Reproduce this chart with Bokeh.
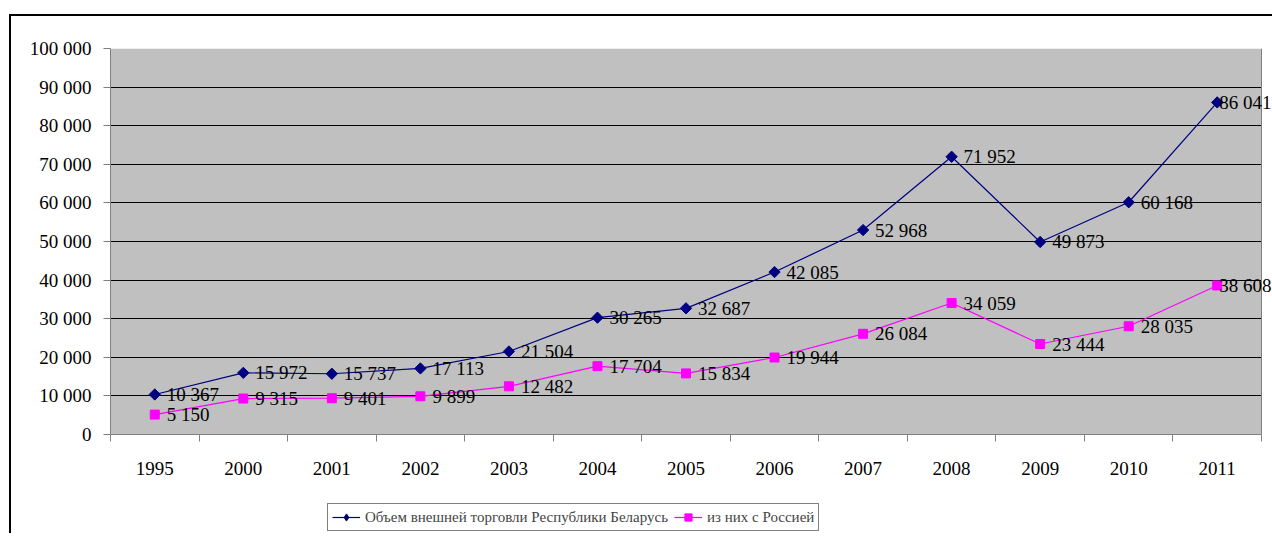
import math
from bokeh.plotting import figure
from bokeh.layouts import column
from bokeh.models import (FixedTicker, Range1d, Legend, LegendItem, Grid,
                          ColumnDataSource, LabelSet, BoxAnnotation, Span)
from bokeh.core.properties import value
from bokeh.embed import file_html
from bokeh.resources import INLINE

years = ["1995", "2000", "2001", "2002", "2003", "2004", "2005",
         "2006", "2007", "2008", "2009", "2010", "2011"]
total = [10367, 15972, 15737, 17113, 21504, 30265, 32687,
         42085, 52968, 71952, 49873, 60168, 86041]
russia = [5150, 9315, 9401, 9899, 12482, 17704, 15834,
          19944, 26084, 34059, 23444, 28035, 38608]
y_ticks = list(range(0, 100001, 10000))
series_names = ["Объем внешней торговли Республики Беларусь", "из них с Россией"]
BLUE, PINK, GRAY, AXIS = "#000080", "#FF00FF", "#C0C0C0", "#808080"


def fmt(v):
    return f"{v:,}".replace(",", " ")


FONT = "'Liberation Serif'"
N = len(years)
xs = [i + 0.5 for i in range(N)]
# value labels sit to the right of each point; the last ones are pulled in
# so that they stay on the page (as the original does)
offs = [12] * (N - 1) + [2]
src = ColumnDataSource(dict(x=xs, total=total, russia=russia,
                            tl=[fmt(v) for v in total],
                            rl=[fmt(v) for v in russia],
                            off=offs))

W = 1261
# plot area spans 1151 px for the N categories; the frame runs 11 px further
# so that the last value labels can overhang the plot area as in the original
x_end = N * 1162 / 1151
p = figure(width=W, height=473,
           x_range=Range1d(0, x_end), y_range=Range1d(0, 100000),
           output_backend="svg", toolbar_location=None,
           min_border_left=99, min_border_right=0,
           min_border_top=32, min_border_bottom=55,
           background_fill_color="white", outline_line_color=None)

p.add_layout(BoxAnnotation(left=0, right=N, fill_color=GRAY, fill_alpha=1,
                           line_color=None, level="image"))

# grid
p.xgrid.visible = False
p.ygrid.ticker = FixedTicker(ticks=y_ticks[:-1])
p.ygrid.grid_line_color = "black"
p.ygrid.grid_line_width = 1
p.ygrid.cross_bounds = (0, N)
p.add_layout(Grid(dimension=1, ticker=FixedTicker(ticks=y_ticks[-1:]),
                  grid_line_color=AXIS, cross_bounds=(0, N)))
p.add_layout(Span(location=N, dimension="height", line_color=AXIS,
                  line_width=1))

# y axis
p.yaxis.ticker = FixedTicker(ticks=y_ticks)
p.yaxis.major_label_overrides = {v: fmt(v) for v in y_ticks}
p.yaxis.axis_line_color = AXIS
p.yaxis.major_tick_line_color = AXIS
p.yaxis.major_tick_out = 7
p.yaxis.major_tick_in = 0
p.yaxis.minor_tick_line_color = None
p.yaxis.major_label_standoff = 12
p.yaxis.major_label_text_font = FONT
p.yaxis.major_label_text_font_size = "19px"
p.yaxis.major_label_text_color = "black"

# x axis: labels at category centres, ticks at boundaries
p.xaxis.ticker = FixedTicker(ticks=xs, minor_ticks=list(range(N + 1)))
p.xaxis.major_label_overrides = {x: y for x, y in zip(xs, years)}
p.xaxis.bounds = (0, N)
p.xaxis.axis_line_color = AXIS
p.xaxis.major_tick_out = 0
p.xaxis.major_tick_in = 0
p.xaxis.major_tick_line_color = None
p.xaxis.minor_tick_out = 7
p.xaxis.minor_tick_in = 0
p.xaxis.minor_tick_line_color = AXIS
p.xaxis.major_label_standoff = 20
p.xaxis.major_label_text_font = FONT
p.xaxis.major_label_text_font_size = "19px"
p.xaxis.major_label_text_color = "black"


def draw_series(fig, source, legend_glyphs=False):
    r = []
    r.append(fig.line("x", "total", source=source, line_color=BLUE, line_width=1.2))
    if legend_glyphs:
        r.append(fig.scatter("x", "total", source=source, marker="diamond", size=12,
                             fill_color=BLUE, line_color=BLUE))
    else:
        r.append(fig.scatter("x", "total", source=source, marker="square", size=8,
                             angle=math.pi / 4, fill_color=BLUE, line_color=BLUE))
    r.append(fig.line("x", "russia", source=source, line_color=PINK, line_width=1.2))
    r.append(fig.scatter("x", "russia", source=source, marker="square", size=9,
                         fill_color=PINK, line_color=PINK))
    return r


draw_series(p, src)

for col, ycol in (("tl", "total"), ("rl", "russia")):
    p.add_layout(LabelSet(x="x", y=ycol, text=col, source=src,
                          x_offset="off", y_offset=0,
                          text_baseline="middle", text_align="left",
                          text_font=value(FONT), text_font_size="19px",
                          text_color="black"))

# legend strip below the chart (its renderers lie outside its visible ranges)
q = figure(width=W, height=44, x_range=Range1d(-100, -99), y_range=Range1d(-100, -99),
           output_backend="svg", toolbar_location=None, min_border=0,
           x_axis_location=None, y_axis_location=None,
           outline_line_color=None, background_fill_color="white")
q.grid.visible = False
lb, mb, lr, mr = draw_series(q, src, legend_glyphs=True)

legend = Legend(items=[LegendItem(label=series_names[0], renderers=[lb, mb]),
                       LegendItem(label=series_names[1], renderers=[lr, mr])],
                orientation="horizontal", location=(217, 2))
legend.border_line_color = "black"
legend.border_line_width = 1
legend.background_fill_color = "white"
legend.background_fill_alpha = 1
legend.label_text_font = FONT
legend.label_text_font_size = "15px"
legend.glyph_width = 28
legend.glyph_height = 18
legend.label_standoff = 5
legend.spacing = 6
legend.padding = 4
legend.margin = 0
legend.label_height = 18
q.add_layout(legend, "center")

layout = column(p, q, spacing=0,
                styles={"border-left": "2px solid black",
                        "border-top": "2px solid black",
                        "margin-left": "9px", "margin-top": "14px"})

open("out.html", "w").write(file_html(layout, INLINE))
